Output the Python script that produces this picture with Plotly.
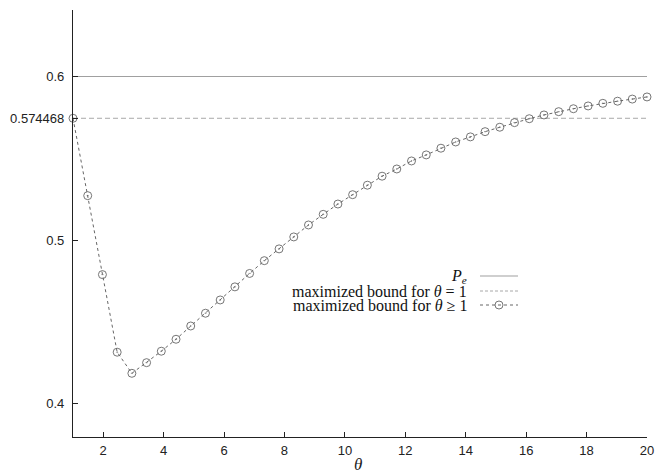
import plotly.graph_objects as go

# ---- data ----
theta = [1.000, 1.487, 1.974, 2.462, 2.949, 3.436, 3.923, 4.410, 4.897, 5.385,
         5.872, 6.359, 6.846, 7.333, 7.821, 8.308, 8.795, 9.282, 9.769, 10.256,
         10.744, 11.231, 11.718, 12.205, 12.692, 13.179, 13.667, 14.154, 14.641, 15.128,
         15.615, 16.103, 16.590, 17.077, 17.564, 18.051, 18.538, 19.026, 19.513, 20.000]
bound_ge1 = [0.574468, 0.5272, 0.4790, 0.4316, 0.4187, 0.4252, 0.4322, 0.4395, 0.4476, 0.4554,
             0.4635, 0.4715, 0.4797, 0.4875, 0.4947, 0.5020, 0.5093, 0.5158, 0.5221, 0.5278,
             0.5336, 0.5391, 0.5435, 0.5484, 0.5521, 0.5562, 0.5600, 0.5631, 0.5663, 0.5690,
             0.5718, 0.5742, 0.5765, 0.5785, 0.5803, 0.5820, 0.5836, 0.5849, 0.5862, 0.5875]
P_e = 0.6
bound_eq1 = 0.574468
x_ticks = [2, 4, 6, 8, 10, 12, 14, 16, 18, 20]
y_ticks = [0.4, 0.5, 0.574468, 0.6]
y_tick_text = ["0.4", "0.5", "0.574468", "0.6"]
x_title = "θ"
legend_labels = ["<i>P<sub>e</sub></i>",
                 "maximized bound for <i>θ</i> = 1",
                 "maximized bound for <i>θ</i> ≥ 1"]

x_min, x_max = theta[0], theta[-1]

fig = go.Figure()
fig.add_trace(go.Scatter(x=[x_min, x_max], y=[P_e, P_e], mode="lines",
                         line=dict(color="#a0a0a0", width=1.1), showlegend=False))
fig.add_trace(go.Scatter(x=[x_min, x_max], y=[bound_eq1, bound_eq1], mode="lines",
                         line=dict(color="#a8a8a8", width=1, dash="5px,3px"), showlegend=False))
fig.add_trace(go.Scatter(x=theta, y=bound_ge1, mode="lines+markers",
                         line=dict(color="#666666", width=1, dash="dot"),
                         marker=dict(symbol="circle-open-dot", size=8,
                                     color="#666666", line=dict(width=0.9)),
                         showlegend=False, cliponaxis=False))

# legend built from annotations + shapes (text right-aligned, sample on the right)
W0, H0 = 574.0, 427.0
rows_py = [276, 291, 305]
text_right = (469 - 73) / W0
s0, s1 = (480 - 73) / W0, (518 - 73) / W0
styles = [dict(color="#a0a0a0", width=1.1), dict(color="#a8a8a8", width=1, dash="3px,2px"),
          dict(color="#666666", width=1, dash="dot")]
for lab, py, st in zip(legend_labels, rows_py, styles):
    yy = (437 - py) / H0
    fig.add_annotation(x=text_right, y=yy, xref="paper", yref="paper", text=lab,
                       showarrow=False, xanchor="right", yanchor="middle",
                       font=dict(family="Liberation Serif", size=16, color="#111"))
    fig.add_shape(type="line", xref="paper", yref="paper", x0=s0, x1=s1, y0=yy, y1=yy,
                  line=st)
yy3 = (437 - rows_py[2]) / H0
fig.add_shape(type="circle", xref="paper", yref="paper", xsizemode="pixel", ysizemode="pixel",
              xanchor=(s0 + s1) / 2, yanchor=yy3, x0=-4, x1=4, y0=-4, y1=4,
              line=dict(color="#666666", width=0.9))

# x-axis title as annotation for exact placement
fig.add_annotation(x=(358 - 73) / W0, y=(437 - 464) / H0, xref="paper", yref="paper",
                   text=x_title, showarrow=False, xanchor="center", yanchor="middle",
                   font=dict(family="Liberation Serif", size=17, color="#222", style="italic"))

fig.update_layout(
    width=655, height=474,
    margin=dict(l=73, r=8, t=10, b=37),
    plot_bgcolor="white", paper_bgcolor="white",
    xaxis=dict(range=[x_min, x_max], tickvals=x_ticks, showgrid=False, zeroline=False,
               showline=True, linecolor="#222", linewidth=1.2,
               ticks="inside", ticklen=5, tickcolor="#222", ticklabelstandoff=1,
               tickfont=dict(family="Liberation Sans", size=13, color="#222"),
               automargin=False),
    yaxis=dict(range=[0.3798, 0.6406], tickvals=y_ticks, ticktext=y_tick_text,
               showgrid=False, zeroline=False,
               showline=True, linecolor="#222", linewidth=1.2,
               ticks="inside", ticklen=5, tickcolor="#222", ticklabelstandoff=5,
               automargin=False,
               tickfont=dict(family="Liberation Sans", size=13, color="#222")),
)

fig.write_html("out.html")
